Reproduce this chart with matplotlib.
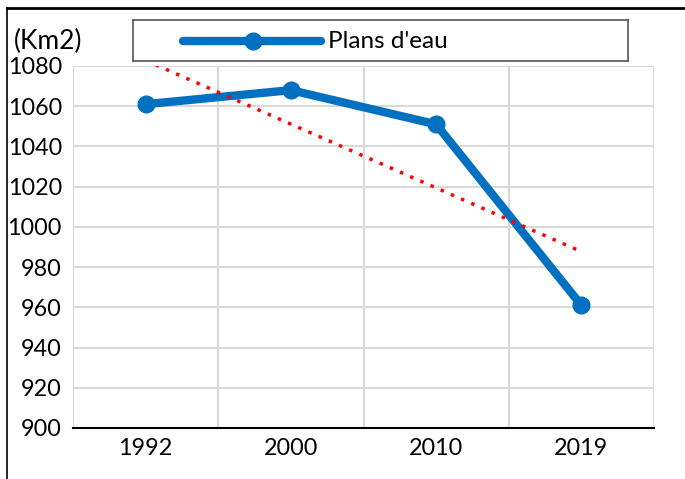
import matplotlib.pyplot as plt
import numpy as np
from matplotlib.lines import Line2D

plt.rcParams['font.family'] = ['Lato', 'DejaVu Sans']

# data
years = ['1992', '2000', '2010', '2019']
surface = [1061, 1068, 1051, 961]
yticks = list(range(900, 1081, 20))

x = np.arange(len(years))

fig = plt.figure(figsize=(6.85, 4.79), dpi=100)
ax = fig.add_axes([73/685, 1-428/479, (654-73)/685, (428-66)/479])

# gridlines (vertical ones sit between the categories)
for yv in yticks:
    ax.axhline(yv, color='#d9d9d9', lw=1.5, zorder=0)
for xv in np.arange(-0.5, len(years), 1.0):
    ax.axvline(xv, color='#d9d9d9', lw=1.5, zorder=0)

ax.plot(x, surface, color='#0070c0', lw=6, marker='o', ms=12, zorder=3,
        solid_capstyle='round', solid_joinstyle='round')

# linear trend line
coef = np.polyfit(x, surface, 1)
ax.plot(x, np.polyval(coef, x), color='#ff0000', lw=2.5, ls=(0, (1, 2.2)), zorder=4)

ax.set_xlim(-0.5, len(years) - 0.5)
ax.set_ylim(900, 1080)
ax.set_xticks(x)
ax.set_xticklabels(years)
ax.set_yticks(yticks)
ax.tick_params(length=0, labelsize=16.8, pad=7)
ax.tick_params(axis='y', pad=8)
for s in ['left', 'right', 'top']:
    ax.spines[s].set_visible(False)
ax.spines['bottom'].set_color('black')
ax.spines['bottom'].set_linewidth(1.5)
ax.spines['bottom'].set_zorder(5)

fig.text(14/685, 1-41/479, '(Km2)', fontsize=19, va='center', ha='left')

# legend box
leg = fig.add_axes([133/685, 1-61/479, (628-133)/685, 41/479])
leg.set_xlim(133, 628)
leg.set_ylim(61, 20)
leg.set_xticks([])
leg.set_yticks([])
for s in leg.spines.values():
    s.set_color('#555555')
    s.set_linewidth(1.2)
leg.add_line(Line2D([183, 321], [41, 41], color='#0070c0', lw=6, solid_capstyle='round'))
leg.plot([253], [41], 'o', color='#0070c0', ms=12)
leg.text(328, 41, "Plans d'eau", fontsize=17.5, va='center', ha='left')

# outer frame lines (left and top)
fig.add_artist(Line2D([7/685, 7/685], [0, 1-8/479], color='black', lw=1.2))
fig.add_artist(Line2D([7/685, 1], [1-8/479, 1-8/479], color='black', lw=2))

fig.savefig('out.png', dpi=100)
